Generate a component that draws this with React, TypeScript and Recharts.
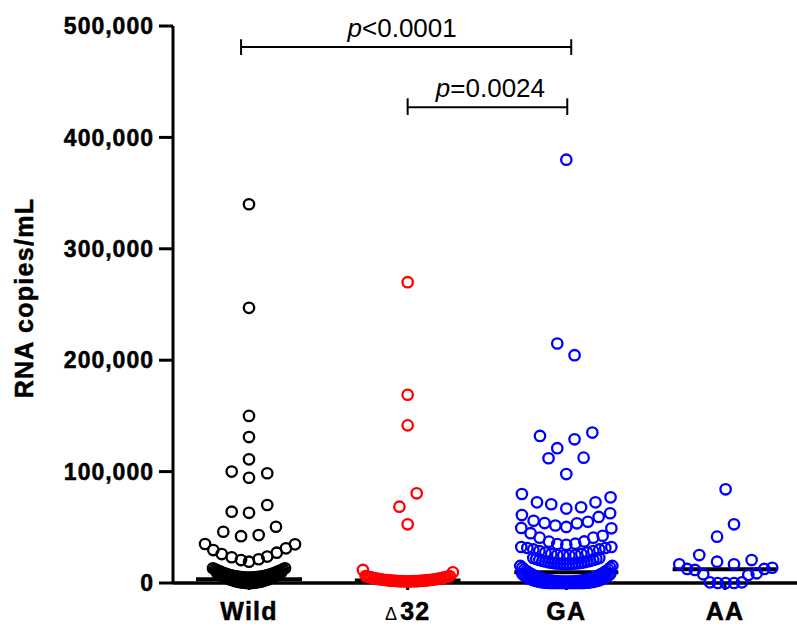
import React from 'react';
import { ScatterChart, Scatter, XAxis, YAxis, ReferenceLine, Label } from 'recharts';

const categories = ['Wild', 'Δ32', 'GA', 'AA'];
const categoryPositions = [1, 2, 3, 4];
const yTicks = [0, 100000, 200000, 300000, 400000, 500000];
const yAxisTitle = 'RNA copies/mL';

// [x (category position with jitter), RNA copies/mL]
const wildPoints: [number, number][] = [
  [1, 340000], [1, 247000], [1, 150000], [1, 131000], [1, 111000], [0.891, 100000], [1.115, 98500], [1, 94500],
  [0.891, 64000], [1, 63000], [1.115, 70000], [0.838, 46000], [0.95, 42000], [1.061, 43000], [1.17, 50500],
  [0.723, 35000], [0.775, 29600], [0.828, 26000], [0.891, 23100], [0.95, 20600], [1.0, 19100], [1.061, 21300],
  [1.115, 23700], [1.175, 27200], [1.233, 31100], [1.29, 34700],
  [0.773, 13230], [0.786, 12320], [0.798, 11460], [0.811, 10650], [0.824, 9900], [0.836, 9190], [0.849, 8540],
  [0.861, 7950], [0.874, 7400], [0.887, 6910], [0.899, 6460], [0.912, 6070], [0.924, 5740], [0.937, 5450],
  [0.95, 5220], [0.962, 5030], [0.975, 4900], [0.987, 4830], [1.0, 4800], [1.013, 4830], [1.025, 4900],
  [1.038, 5030], [1.05, 5220], [1.063, 5450], [1.076, 5740], [1.088, 6070], [1.101, 6460], [1.113, 6910],
  [1.126, 7400], [1.139, 7950], [1.151, 8540], [1.164, 9190], [1.176, 9900], [1.189, 10650], [1.202, 11460],
  [1.214, 12320], [1.227, 13230],
  [0.798, 9400], [0.811, 8260], [0.824, 7200], [0.836, 6210], [0.849, 5290], [0.861, 4440], [0.874, 3670],
  [0.887, 2980], [0.899, 2350], [0.912, 1800], [0.924, 1320], [0.937, 920], [0.95, 590], [0.962, 330],
  [0.975, 150], [0.987, 40], [1.0, 0], [1.013, 40], [1.025, 150], [1.038, 330], [1.05, 590], [1.063, 920],
  [1.076, 1320], [1.088, 1800], [1.101, 2350], [1.113, 2980], [1.126, 3670], [1.139, 4440], [1.151, 5290],
  [1.164, 6210], [1.176, 7200], [1.189, 8260], [1.202, 9400],
];

const delta32Points: [number, number][] = [
  [2, 270000], [2, 169000], [2, 141500], [2.057, 80500], [1.948, 68500], [2, 52700], [1.718, 11700], [2.285, 9600],
  [1.735, 6300], [1.748, 5800], [1.761, 5300], [1.773, 4800], [1.786, 4400], [1.798, 4000], [1.811, 3700],
  [1.824, 3450], [1.836, 3150], [1.849, 2900], [1.861, 2700], [1.874, 2500], [1.887, 2300], [1.899, 2150],
  [1.912, 2000], [1.924, 1900], [1.937, 1750], [1.95, 1650], [1.962, 1600], [1.975, 1550], [1.987, 1500],
  [2.0, 1500], [2.013, 1500], [2.025, 1550], [2.038, 1600], [2.05, 1650], [2.063, 1750], [2.076, 1900],
  [2.088, 2000], [2.101, 2150], [2.113, 2300], [2.126, 2500], [2.139, 2700], [2.151, 2900], [2.164, 3150],
  [2.176, 3450], [2.189, 3700], [2.202, 4000], [2.214, 4400], [2.227, 4800], [2.239, 5300], [2.252, 5800],
  [2.265, 6300],
];

const gaPoints: [number, number][] = [
  [3, 380000], [2.943, 215000], [3.052, 204500], [2.834, 132000], [2.943, 121000], [2.888, 112000],
  [3.052, 129000], [3.164, 135000], [3.109, 112500], [3, 97800],
  [2.72, 79900], [2.815, 72400], [2.905, 70700], [3.0, 66800], [3.093, 68000], [3.184, 72400], [3.279, 76900],
  [2.72, 61000], [2.794, 55900], [2.863, 53800], [2.931, 51600], [3.0, 50300], [3.067, 53600], [3.136, 55000],
  [3.204, 59300], [3.276, 62600],
  [2.716, 49400], [2.775, 44700], [2.832, 40700], [2.891, 37100], [2.943, 35000], [3.0, 34300], [3.057, 35300],
  [3.113, 37300], [3.17, 40700], [3.229, 42400], [3.284, 49100],
  [2.716, 32300], [2.754, 31400], [2.792, 30100], [2.83, 28700], [2.868, 27400], [2.905, 26000], [2.943, 25100],
  [2.981, 24700], [3.019, 24700], [3.057, 25100], [3.095, 26000], [3.132, 27400], [3.17, 28700], [3.208, 30100],
  [3.246, 31400], [3.284, 32300],
  [2.792, 22500], [2.811, 21600], [2.83, 20700], [2.849, 19900], [2.868, 19300], [2.887, 18700], [2.905, 18200],
  [2.924, 17800], [2.943, 17500], [2.962, 17300], [2.981, 17100], [3.0, 17100], [3.019, 17100], [3.038, 17300],
  [3.057, 17500], [3.076, 17800], [3.095, 18200], [3.113, 18700], [3.132, 19300], [3.151, 19900], [3.17, 20700],
  [3.189, 21600], [3.208, 22500],
  [2.71, 15300], [2.723, 13650], [2.735, 12000], [2.748, 10750], [2.761, 9500], [2.773, 8500], [2.786, 7500],
  [2.798, 6650], [2.811, 5800], [2.824, 5100], [2.836, 4400], [2.849, 3850], [2.861, 3300], [2.874, 2900],
  [2.887, 2500], [2.899, 2200], [2.912, 1900], [2.924, 1700], [2.937, 1500], [2.95, 1400], [2.962, 1300],
  [2.975, 1250], [2.987, 1200], [3.0, 1200], [3.013, 1200], [3.025, 1250], [3.038, 1300], [3.05, 1400],
  [3.063, 1500], [3.076, 1700], [3.088, 1900], [3.101, 2200], [3.113, 2500], [3.126, 2900], [3.139, 3300],
  [3.151, 3850], [3.164, 4400], [3.176, 5100], [3.189, 5800], [3.202, 6650], [3.214, 7500], [3.227, 8500],
  [3.239, 9500], [3.252, 10750], [3.265, 12000], [3.277, 13650], [3.29, 15300],
  [2.723, 8000], [2.735, 6750], [2.748, 5500], [2.761, 4550], [2.773, 3600], [2.786, 2950], [2.798, 2300],
  [2.811, 1800], [2.824, 1300], [2.836, 1000], [2.849, 700], [2.861, 500], [2.874, 300], [2.887, 200],
  [2.899, 100], [2.912, 50], [2.924, 0], [2.937, 0], [2.95, 0], [2.962, 0], [2.975, 0], [2.987, 0], [3.0, 0],
  [3.013, 0], [3.025, 0], [3.038, 0], [3.05, 0], [3.063, 0], [3.076, 0], [3.088, 50], [3.101, 100],
  [3.113, 200], [3.126, 300], [3.139, 500], [3.151, 700], [3.164, 1000], [3.176, 1300], [3.189, 1800],
  [3.202, 2300], [3.214, 2950], [3.227, 3600], [3.239, 4550], [3.252, 5500], [3.265, 6750], [3.277, 8000],
];

const aaPoints: [number, number][] = [
  [4.004, 84100], [4.057, 52700], [3.95, 41600], [3.838, 25100], [3.95, 19100], [4.057, 16800], [4.168, 20600],
  [3.712, 16800], [3.762, 12600], [3.811, 11700], [3.863, 7800], [3.905, 600], [3.954, 0], [4.004, 0],
  [4.057, 0], [4.107, 600], [4.147, 7200], [4.2, 8700], [4.248, 12600], [4.298, 13700],
];

// median: [center, halfWidth, value]
const medians: [number, number, number][] = [
  [1, 0.334, 3300],
  [2, 0.333, 2200],
  [3, 0.328, 9600],
  [4, 0.33, 12300],
];

// brackets: [x1, x2, y, capTop, capBottom, italic, rest, textDx]
const brackets: [number, number, number, number, number, string, string, number][] = [
  [0.95, 3.031, 481150, 488100, 474000, 'p', '<0.0001', -4],
  [2.0, 3.006, 427000, 435100, 420100, 'p', '=0.0024', 3],
];

const FONT = '"Liberation Sans", Arial, Helvetica, sans-serif';

const toData = (pts: [number, number][]) => pts.map(([x, y]) => ({ x, y }));

const ring = (color: string) => (props: any) => (
  <circle cx={props.cx} cy={props.cy} r={5.2} fill="none" stroke={color} strokeWidth={2.3} />
);

const YTick = (props: any) => {
  const { x, y, payload } = props;
  return (
    <text x={x} y={y} dy="0.355em" textAnchor="end" fontFamily={FONT} fontWeight="bold" fontSize={23} letterSpacing={1} fill="#000" stroke="#000" strokeWidth={0.5}>
      {Number(payload.value).toLocaleString('en-US')}
    </text>
  );
};

const XTick = (props: any) => {
  const { x, y, payload } = props;
  const idx = categoryPositions.indexOf(payload.value);
  const name = categories[idx] ?? '';
  if (name.startsWith('Δ')) {
    return (
      <text x={x} y={y + 28} textAnchor="middle" fontFamily={FONT} fontWeight="bold" fontSize={25} letterSpacing={1.2} fill="#000">
        <tspan fontWeight="normal" fontSize={18}>Δ</tspan>
        <tspan dx={2} stroke="#000" strokeWidth={0.5}>{name.slice(1)}</tspan>
      </text>
    );
  }
  return (
    <text x={x} y={y + 28} textAnchor="middle" fontFamily={FONT} fontWeight="bold" fontSize={25} letterSpacing={1.2} fill="#000" stroke="#000" strokeWidth={0.5}>
      {name}
    </text>
  );
};

const YTitle = () => (
  <text x={33} y={298} transform="rotate(-90 33 298)" textAnchor="middle" fontFamily={FONT} fontWeight="bold" fontSize={25} letterSpacing={1.3} fill="#000" stroke="#000" strokeWidth={0.5}>
    {yAxisTitle}
  </text>
);

const bracketLabel = (italic: string, rest: string, dx: number) => (props: any) => {
  const vb = props.viewBox || {};
  const cx = (vb.x ?? 0) + (vb.width ?? 0) / 2 + dx;
  const cy = (vb.y ?? 0) - 10;
  return (
    <text x={cx} y={cy} textAnchor="middle" fontFamily={FONT} fontSize={26} fill="#000">
      <tspan fontStyle="italic">{italic}</tspan>
      <tspan>{rest}</tspan>
    </text>
  );
};

export default function App() {
  return (
    <div style={{ position: 'absolute', left: 0, top: 0, background: '#fff' }}>
      <ScatterChart width={797} height={626} margin={{ top: 26, right: 0, bottom: 0, left: 0 }}>
        <XAxis
          type="number"
          dataKey="x"
          domain={[0.521, 4.454]}
          ticks={categoryPositions}
          allowDataOverflow
          height={43}
          tickSize={7}
          axisLine={{ stroke: '#000', strokeWidth: 3.5 }}
          tickLine={{ stroke: '#000', strokeWidth: 3 }}
          tick={<XTick />}
        />
        <YAxis
          type="number"
          dataKey="y"
          domain={[0, 500000]}
          ticks={yTicks}
          width={173}
          tickSize={14}
          tickMargin={5}
          axisLine={{ stroke: '#000', strokeWidth: 3 }}
          tickLine={{ stroke: '#000', strokeWidth: 3 }}
          tick={<YTick />}
        >
          <Label content={<YTitle />} />
        </YAxis>
        <Scatter data={toData(wildPoints)} shape={ring('#000000')} isAnimationActive={false} />
        <Scatter data={toData(delta32Points)} shape={ring('#ff0000')} isAnimationActive={false} />
        <Scatter data={toData(gaPoints)} shape={ring('#0000ff')} isAnimationActive={false} />
        <Scatter data={toData(aaPoints)} shape={ring('#0000ff')} isAnimationActive={false} />
        {medians.map(([c, h, v], i) => (
          <ReferenceLine
            key={'m' + i}
            segment={[{ x: c - h, y: v }, { x: c + h, y: v }]}
            stroke="#000"
            strokeWidth={4}
            ifOverflow="visible"
          />
        ))}
        {brackets.map(([x1, x2, y, ct, cb, it, rest, dx], i) => (
          <ReferenceLine
            key={'b' + i}
            segment={[{ x: x1, y }, { x: x2, y }]}
            stroke="#000"
            strokeWidth={2}
            ifOverflow="visible"
            label={bracketLabel(it, rest, dx)}
          />
        ))}
        {brackets.map(([x1, x2, y, ct, cb], i) => (
          <ReferenceLine key={'cl' + i} segment={[{ x: x1, y: ct }, { x: x1, y: cb }]} stroke="#000" strokeWidth={2} ifOverflow="visible" />
        ))}
        {brackets.map(([x1, x2, y, ct, cb], i) => (
          <ReferenceLine key={'cr' + i} segment={[{ x: x2, y: ct }, { x: x2, y: cb }]} stroke="#000" strokeWidth={2} ifOverflow="visible" />
        ))}
      </ScatterChart>
    </div>
  );
}
